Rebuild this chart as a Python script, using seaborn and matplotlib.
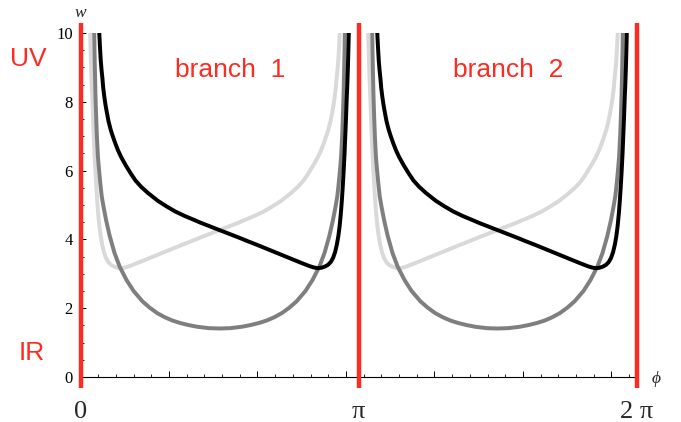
"""w(phi) on the two branches, with the UV/IR walls drawn in red."""
import matplotlib
matplotlib.use("Agg")
import matplotlib.pyplot as plt
from matplotlib.ticker import MultipleLocator, NullFormatter
import numpy as np
import pandas as pd
import seaborn as sns

# branch 1 curves (phi in [0, pi]); branch 2 is the same one period on
PHI_LIGHT = [0.11, 0.115, 0.12, 0.127, 0.135, 0.142, 0.15, 0.158, 0.168, 0.178,
             0.188, 0.2, 0.213, 0.228, 0.245, 0.265, 0.288, 0.315, 0.345, 0.38,
             0.42, 0.46, 0.5, 0.55, 0.65, 0.75, 0.85, 0.95, 1.05, 1.15,
             1.25, 1.35, 1.46, 1.571, 1.68, 1.78, 1.88, 1.964, 2.07, 2.17,
             2.267, 2.38, 2.457, 2.52, 2.57, 2.63, 2.684, 2.72, 2.75, 2.78,
             2.80, 2.825, 2.845, 2.86, 2.873, 2.885, 2.895, 2.905, 2.913, 2.922,
             2.93]
W_LIGHT = [10, 9.5, 9, 8.5, 8, 7.5, 7, 6.5, 6, 5.55,
           5.15, 4.75, 4.4, 4.1, 3.85, 3.63, 3.46, 3.34, 3.26, 3.21,
           3.175, 3.165, 3.18, 3.22, 3.32, 3.425, 3.53, 3.635, 3.74, 3.845,
           3.945, 4.05, 4.16, 4.27, 4.38, 4.48, 4.59, 4.68, 4.81, 4.96,
           5.12, 5.35, 5.53, 5.71, 5.9, 6.15, 6.4, 6.6, 6.8, 7.02,
           7.18, 7.43, 7.7, 7.92, 8.15, 8.4, 8.7, 8.95, 9.2, 9.6,
           10]

PHI_GRAY = [0.155, 0.158, 0.162, 0.168, 0.175, 0.185, 0.197, 0.21, 0.225, 0.24,
            0.26, 0.29, 0.33, 0.385, 0.444, 0.52, 0.6, 0.7, 0.78, 0.865,
            0.95, 1.04, 1.126, 1.22, 1.32, 1.45, 1.571,
            1.692, 1.822, 1.922, 2.016, 2.102, 2.192, 2.277, 2.362, 2.442, 2.542,
            2.622, 2.698, 2.757, 2.812, 2.852, 2.882, 2.902, 2.917, 2.932, 2.945,
            2.957, 2.967, 2.974, 2.980, 2.984, 2.987]
W_GRAY = [10, 9.5, 9, 8.3, 7.7, 7.0, 6.4, 6.0, 5.6, 5.25,
          4.95, 4.55, 4.1, 3.6, 3.2, 2.82, 2.5, 2.2, 2.02, 1.86,
          1.74, 1.64, 1.57, 1.51, 1.46, 1.42, 1.41,
          1.42, 1.46, 1.51, 1.57, 1.64, 1.74, 1.86, 2.02, 2.2, 2.5,
          2.82, 3.2, 3.6, 4.1, 4.55, 4.95, 5.25, 5.6, 6.0, 6.4,
          7.0, 7.7, 8.3, 9, 9.5, 10]

PHI_BLACK = [0.212, 0.220, 0.229, 0.237, 0.247, 0.257, 0.269, 0.282, 0.297, 0.317,
             0.342, 0.362, 0.392, 0.422, 0.458, 0.512, 0.572, 0.622, 0.685, 0.762,
             0.875, 0.972, 1.072, 1.178, 1.262, 1.362, 1.462, 1.571, 1.682, 1.792,
             1.892, 1.992, 2.092, 2.192, 2.292, 2.392, 2.492, 2.592, 2.642, 2.682,
             2.722, 2.762, 2.797, 2.827, 2.854, 2.877, 2.897, 2.914, 2.929, 2.942,
             2.954, 2.964, 2.974, 2.984, 2.992, 3.000, 3.007, 3.015, 3.022, 3.027,
             3.032]
W_BLACK = [10, 9.6, 9.2, 8.95, 8.7, 8.4, 8.15, 7.92, 7.7, 7.43,
           7.18, 7.02, 6.8, 6.6, 6.4, 6.15, 5.9, 5.71, 5.53, 5.35,
           5.12, 4.96, 4.81, 4.68, 4.59, 4.48, 4.38, 4.27, 4.16, 4.05,
           3.945, 3.845, 3.74, 3.635, 3.53, 3.425, 3.32, 3.22, 3.18, 3.165,
           3.175, 3.21, 3.26, 3.34, 3.46, 3.63, 3.85, 4.1, 4.4, 4.75,
           5.15, 5.55, 6, 6.5, 7, 7.5, 8, 8.5, 9, 9.5,
           10]

BRANCH_SHIFT = [0.0, np.pi]
BRANCH_NAMES = ["branch  1", "branch  2"]
WALLS = [0.0, np.pi, 2 * np.pi]
WALL_LABELS = ["0", "π", "2 π"]

RED = "#fb2c22"
CURVE_COLORS = {"light": "#d9d9d9", "gray": "#7f7f7f", "black": "#000000"}
SERIF = ["Liberation Serif", "DejaVu Serif"]

rows = []
for name, phis, ws in [("light", PHI_LIGHT, W_LIGHT),
                       ("gray", PHI_GRAY, W_GRAY),
                       ("black", PHI_BLACK, W_BLACK)]:
    for b, shift in enumerate(BRANCH_SHIFT):
        for p, w in zip(phis, ws):
            rows.append({"phi": p + shift, "w": w, "curve": name, "branch": b})
df = pd.DataFrame(rows)

sns.set_theme(style="ticks")
plt.rcParams["font.family"] = ["Liberation Sans", "DejaVu Sans"]

W_PX, H_PX = 681, 422
fig = plt.figure(figsize=(W_PX / 100, H_PX / 100), dpi=100)
ax = fig.add_axes([80.5 / W_PX, 1 - 377 / H_PX, 556 / W_PX, 344 / H_PX])

for name in ["light", "gray", "black"]:
    sns.lineplot(data=df[df.curve == name], x="phi", y="w", units="branch",
                 estimator=None, sort=False, color=CURVE_COLORS[name],
                 linewidth=2.85, legend=False, ax=ax)

for x in WALLS:
    ax.plot([x, x], [-0.32, 10.3], color=RED, lw=3.2, clip_on=False,
            zorder=5, solid_capstyle="butt")

ax.set_xlim(0, 2 * np.pi)
ax.set_ylim(0, 10)
ax.set_xlabel("")
ax.set_ylabel("")
ax.spines[["top", "right"]].set_visible(False)
for s in ["left", "bottom"]:
    ax.spines[s].set_color("black")
    ax.spines[s].set_linewidth(0.8)

ax.yaxis.set_major_locator(MultipleLocator(2))
ax.yaxis.set_minor_locator(MultipleLocator(0.5))
ax.xaxis.set_major_locator(MultipleLocator(1))
ax.xaxis.set_minor_locator(MultipleLocator(0.2))
ax.xaxis.set_major_formatter(NullFormatter())
ax.tick_params(which="both", direction="in", color="black", top=False, right=False)
ax.tick_params(axis="y", which="major", length=3.6, width=0.7, pad=5.5,
               labelsize=12, labelcolor="black")
ax.tick_params(axis="y", which="minor", length=2.2, width=0.6)
ax.tick_params(axis="x", which="major", length=4.0, width=0.7)
ax.tick_params(axis="x", which="minor", length=2.4, width=0.6)
for lbl in ax.get_yticklabels():
    lbl.set_fontfamily(SERIF)

for x, lab in zip(WALLS, WALL_LABELS):
    ax.annotate(lab, xy=(x, 0), xycoords=("data", "axes fraction"),
                xytext=(0, -29.5), textcoords="offset points", ha="center",
                va="baseline", fontsize=19, family=SERIF, annotation_clip=False)

for shift, name in zip(BRANCH_SHIFT, BRANCH_NAMES):
    ax.text(1.69 + shift, 8.72, name, ha="center", va="baseline",
            fontsize=19, color=RED)

fig.text(28.5 / W_PX, 1 - 66 / H_PX, "UV", ha="center", va="baseline", fontsize=19, color=RED)
fig.text(32 / W_PX, 1 - 360 / H_PX, "IR", ha="center", va="baseline", fontsize=19, color=RED)
fig.text(80.5 / W_PX, 1 - 17 / H_PX, "w", ha="center", va="baseline",
         fontsize=12.5, family=SERIF, style="italic")
fig.text(656 / W_PX, 1 - 383 / H_PX, "ϕ", ha="center", va="baseline",
         fontsize=12.5, family=SERIF, style="italic")

fig.savefig("out.png", dpi=100)
plt.close(fig)
